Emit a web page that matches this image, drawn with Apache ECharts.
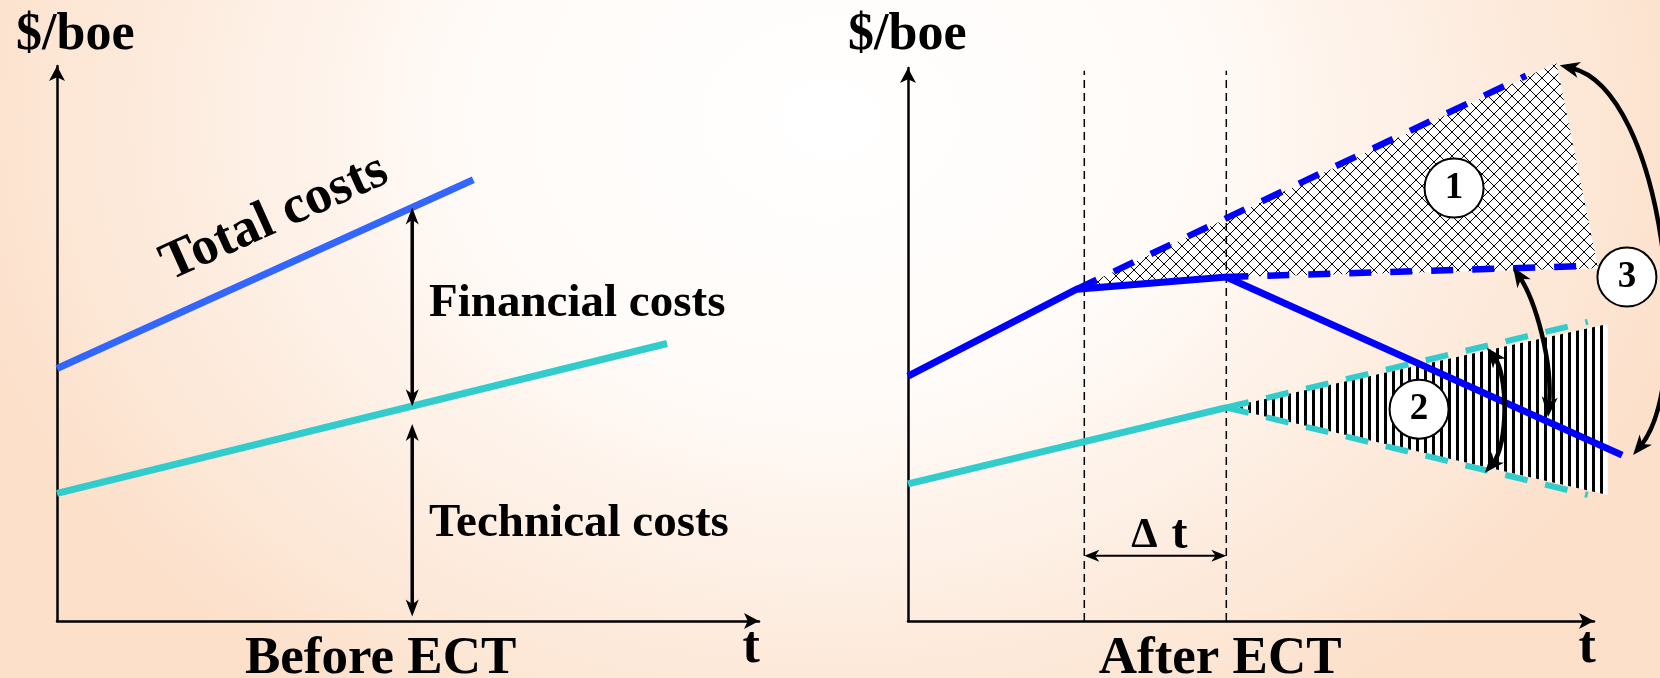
<!DOCTYPE html>
<html>
<head>
<meta charset="utf-8">
<script src="https://cdn.jsdelivr.net/npm/echarts@6/dist/echarts.min.js"></script>
<style>
  html, body { margin: 0; padding: 0; }
  #chart {
    width: 1660px; height: 678px;
    background: radial-gradient(ellipse 900px 700px at 830px 120px,
      #ffffff 0%, #fffbf8 40%, #fdebdd 75%, #fce0ca 100%);
  }
</style>
</head>
<body>
<div id="chart"></div>
<script>
// ---------- Before ECT (left panel), units: t 0..100, $/boe 0..100 ----------
const totalCosts     = [[0, 45.5], [59.3, 79.5]];
const technicalCosts = [[0, 23.0], [86.9, 50.0]];
// vertical spans marked with double arrows: [t, from, to]
const financialSpan  = [50.6, 74.5, 38.7];
const technicalSpan  = [50.6, 35.5, 0.8];

// ---------- After ECT (right panel) ----------
const totalAfter  = [[0, 44.3], [24.6, 60.0], [46.4, 62.2], [104.1, 30.0]];
const totalHigh   = [[24.6, 60.0], [90.1, 98.6]];
const totalLow    = [[46.4, 62.2], [99.0, 64.2]];
const techAfter   = [[0, 24.8], [46.4, 38.6]];
const techHigh    = [[46.4, 38.6], [99.1, 54.1]];
const techLow     = [[46.4, 38.6], [99.1, 22.8]];
const zoneOne     = [[24.6, 60.0], [94.5, 100.9], [100.6, 63.8], [46.4, 62.2]];
const zoneTwo     = [[46.4, 38.6], [102.0, 53.7], [102.0, 22.8]];
const zoneMarkers = [[79.6, 78.3, '1'], [74.5, 38.3, '2'], [104.8, 62.2, '3']];
const delayStart  = 25.7;
const delayEnd    = 46.4;
const delayTop    = 99.5;
const delayLevel  = 11.8;
// curved double arrows: start, control 1, control 2, end
const swingArcs = [
  [[95.0, 100.5], [110.3, 96.0], [114.7, 43.6], [105.7, 30.0]],
  [[88.2, 64.0],  [91.4, 58.0],  [94.0, 47.2],  [93.3, 36.9]],
  [[84.4, 49.4],  [87.5, 44.5],  [87.5, 31.8],  [84.1, 26.8]]
];

// ---------- texts ----------
const axisNameY   = '$/boe';
const axisNameX   = 't';
const leftTitle   = 'Before ECT';
const rightTitle  = 'After ECT';
const totalName   = 'Total costs';
const financeName = 'Financial costs';
const techName    = 'Technical costs';
const deltaSign   = 'Δ';
const deltaVar    = 't';

const SERIF = '"Liberation Serif", "Times New Roman", serif';
const BLUE_L = '#3366ff', BLUE_R = '#0000ff', CYAN = '#33cccc';

// hatch tiles
function crossTile() {
  const n = 12;
  const c = document.createElement('canvas'); c.width = n; c.height = n;
  const g = c.getContext('2d');
  g.fillStyle = '#fff'; g.fillRect(0, 0, n, n);
  g.fillStyle = '#000';
  for (let i = 0; i < n; i++) { g.fillRect(i, i, 1, 1); g.fillRect(n - 1 - i, i, 1, 1); }
  return c;
}
function stripeTile() {
  const c = document.createElement('canvas'); c.width = 8; c.height = 8;
  const g = c.getContext('2d');
  g.fillStyle = '#fff'; g.fillRect(0, 0, 8, 8);
  g.fillStyle = '#000'; g.fillRect(0, 0, 3, 8);
  return c;
}
const crossPattern = crossTile();
const stripePattern = stripeTile();

const chart = echarts.init(document.getElementById('chart'), null, { renderer: 'canvas' });

function axis(i) {
  return {
    gridIndex: i, type: 'value', min: 0, max: 100,
    axisLine: { show: true, onZero: false, symbol: ['none', 'arrow'], symbolSize: [12, 15],
      lineStyle: { color: '#000', width: 2.5 } },
    axisTick: { show: false }, axisLabel: { show: false }, splitLine: { show: false }
  };
}
function line(i, data, color, width, dash, z) {
  return {
    type: 'line', xAxisIndex: i, yAxisIndex: i, data, symbol: 'none', silent: true, clip: false,
    z: z || 3, lineStyle: { color, width, type: dash || 'solid', cap: 'butt' }
  };
}
// polyline that may run past the end of the time axis
function freeLine(i, data, color, width, z) {
  return {
    type: 'custom', xAxisIndex: i, yAxisIndex: i, data: [0], silent: true, z: z || 4, clip: false,
    renderItem: (p, api) => ({
      type: 'polyline',
      shape: { points: data.map(q => api.coord(q)) },
      style: { stroke: color, lineWidth: width, fill: null, lineJoin: 'miter' }
    })
  };
}
function zone(i, pts, tile) {
  return {
    type: 'custom', xAxisIndex: i, yAxisIndex: i, data: [0], silent: true, z: 1, clip: false,
    renderItem: (p, api) => ({
      type: 'polygon',
      shape: { points: pts.map(q => api.coord(q)) },
      style: { fill: { image: tile, repeat: 'repeat' }, stroke: null }
    })
  };
}

chart.setOption({
  animation: false,
  backgroundColor: 'transparent',
  grid: [
    { left: 57, top: 66, width: 702, height: 555 },
    { left: 908, top: 68, width: 686, height: 553 }
  ],
  xAxis: [axis(0), axis(1)],
  yAxis: [axis(0), axis(1)],
  series: [
    line(0, totalCosts, BLUE_L, 7),
    line(0, technicalCosts, CYAN, 7),
    zone(1, zoneOne, crossPattern),
    zone(1, zoneTwo, stripePattern),
    line(1, [[delayStart, 0], [delayStart, delayTop]], '#000', 1.5, [8, 5], 2),
    line(1, [[delayEnd, 0], [delayEnd, delayTop]], '#000', 1.5, [8, 5], 2),
    line(1, totalHigh, BLUE_R, 6.5, [22, 19]),
    line(1, totalLow, BLUE_R, 6.5, [22, 19]),
    line(1, techHigh, CYAN, 6, [23, 18]),
    line(1, techLow, CYAN, 6, [23, 18]),
    line(1, techAfter, CYAN, 7),
    freeLine(1, totalAfter, BLUE_R, 7),
    {
      type: 'scatter', xAxisIndex: 1, yAxisIndex: 1, silent: true, z: 6, clip: false,
      data: zoneMarkers, symbol: 'circle', symbolSize: 59,
      itemStyle: { color: '#fff', borderColor: '#000', borderWidth: 2, opacity: 1 },
      label: { show: true, position: 'inside', formatter: p => p.data[2],
        fontFamily: SERIF, fontWeight: 'bold', fontSize: 37, color: '#000' }
    }
  ]
});

// ---------- annotations placed through the axes ----------
const px = (g, v) => chart.convertToPixel({ gridIndex: g }, v);

function head(tip, from, L, W) {
  const dx = tip[0] - from[0], dy = tip[1] - from[1];
  const len = Math.hypot(dx, dy), ux = dx / len, uy = dy / len, nx = -uy, ny = ux;
  const bx = tip[0] - ux * L, by = tip[1] - uy * L;
  return {
    type: 'polygon', z: 20,
    shape: { points: [tip, [bx + nx * W / 2, by + ny * W / 2],
      [tip[0] - ux * L * 0.72, tip[1] - uy * L * 0.72], [bx - nx * W / 2, by - ny * W / 2]] },
    style: { fill: '#000' }
  };
}
function pull(p, toward, d) {
  const dx = toward[0] - p[0], dy = toward[1] - p[1], len = Math.hypot(dx, dy);
  return [p[0] + dx / len * d, p[1] + dy / len * d];
}
function doubleArrow(a, b, width, L, W) {
  const s = pull(a, b, L * 0.6), e = pull(b, a, L * 0.6);
  return [
    { type: 'line', z: 19, shape: { x1: s[0], y1: s[1], x2: e[0], y2: e[1] },
      style: { stroke: '#000', lineWidth: width } },
    head(a, b, L, W), head(b, a, L, W)
  ];
}
function curvedArrow(pts, width, L, W) {
  const p = pts.map(q => px(1, q));
  const s = pull(p[0], p[1], L * 0.6), e = pull(p[3], p[2], L * 0.6);
  return [
    { type: 'bezierCurve', z: 19,
      shape: { x1: s[0], y1: s[1], cpx1: p[1][0], cpy1: p[1][1], cpx2: p[2][0], cpy2: p[2][1], x2: e[0], y2: e[1] },
      style: { stroke: '#000', lineWidth: width, fill: null } },
    head(p[0], p[1], L, W), head(p[3], p[2], L, W)
  ];
}
function label(g, text, at, size, align, angle) {
  const c = px(g, at);
  return {
    type: 'text', x: c[0], y: c[1], z: 25, rotation: (angle || 0) * Math.PI / 180,
    style: { text, fontFamily: SERIF, fontWeight: 'bold', fontSize: size, fill: '#000',
      align: align || 'center', verticalAlign: 'middle' }
  };
}

const els = [];
els.push(...doubleArrow(px(0, [financialSpan[0], financialSpan[1]]), px(0, [financialSpan[0], financialSpan[2]]), 3.5, 17, 13));
els.push(...doubleArrow(px(0, [technicalSpan[0], technicalSpan[1]]), px(0, [technicalSpan[0], technicalSpan[2]]), 3.5, 17, 13));
els.push(...doubleArrow(px(1, [delayStart, delayLevel]), px(1, [delayEnd, delayLevel]), 2, 15, 12));
swingArcs.forEach(a => els.push(...curvedArrow(a, 4.5, 20, 16)));

els.push(label(0, axisNameY, [2.6, 105.4], 52));
els.push(label(0, totalName, [31.0, 72.6], 54, 'center', 24.2));
els.push(label(0, financeName, [53.0, 57.1], 47, 'left'));
els.push(label(0, techName, [53.0, 17.5], 47, 'left'));
els.push(label(0, leftTitle, [46.1, -6.9], 53));
els.push(label(0, axisNameX, [98.9, -4.9], 52));
els.push(label(1, axisNameY, [-0.1, 105.8], 52));
els.push(label(1, deltaSign, [36.4, 15.4], 42, 'right'));
els.push(label(1, deltaVar, [38.4, 15.5], 48, 'left'));
els.push(label(1, rightTitle, [45.5, -6.9], 53));
els.push(label(1, axisNameX, [99.0, -4.9], 52));

chart.setOption({ graphic: { elements: els } });
</script>
</body>
</html>
